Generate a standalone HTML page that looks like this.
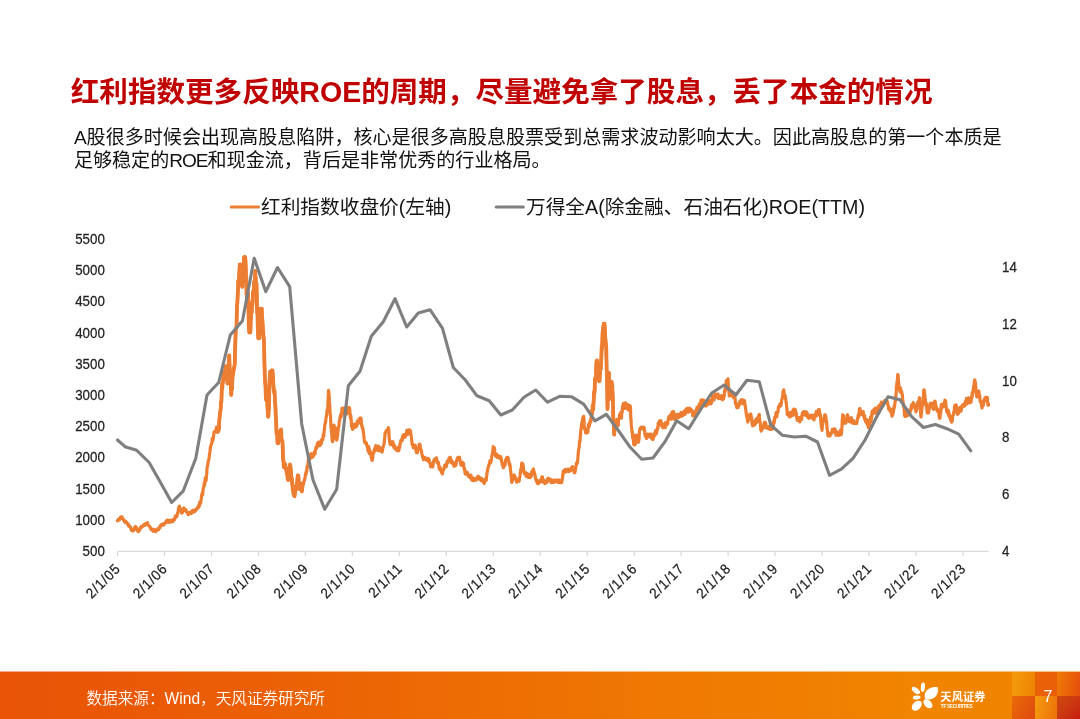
<!DOCTYPE html>
<html lang="zh-CN">
<head>
<meta charset="utf-8">
<title>红利指数更多反映ROE的周期</title>
<style>
html,body{margin:0;padding:0;background:#fff;}
body{will-change:transform;width:1080px;height:719px;position:relative;overflow:hidden;font-family:"Liberation Sans","Noto Sans CJK SC",sans-serif;color:#111;}
.title{color:#c00000;position:absolute;left:70.8px;top:71px;margin:0;font-size:28.57px;line-height:42px;font-weight:700;white-space:nowrap;letter-spacing:0;}
.body{position:absolute;left:73.9px;top:126.4px;margin:0;font-size:19.07px;line-height:23px;color:#111;white-space:nowrap;}
.chart{position:absolute;left:0;top:0;}
.chart .ax text{font-family:"Liberation Sans",sans-serif;font-size:14.4px;fill:#222;stroke:#222;stroke-width:0.25px;}
.leg{position:absolute;top:192.6px;font-size:19.7px;line-height:28px;color:#151515;white-space:nowrap;}
.footer{position:absolute;left:0;top:672px;width:1080px;height:47px;overflow:hidden;background:linear-gradient(90deg,#e95407 0%,#ea5a06 15%,#ec6505 33%,#ee7103 50%,#f07c02 67%,#f18400 84%,#f08300 100%);}
.tile{position:absolute;}
.fedge{position:absolute;left:0;top:671px;width:1080px;height:1px;opacity:0.5;background:linear-gradient(90deg,#e95407 0%,#ea5a06 15%,#ec6505 33%,#ee7103 50%,#f07c02 67%,#f18400 84%,#f08300 100%);}
.src{font-weight:350;position:absolute;left:86.5px;top:687.9px;font-size:15.62px;line-height:22px;color:#fff;white-space:nowrap;}
.pg{position:absolute;left:1043.4px;top:685.8px;font-size:16px;line-height:22px;color:#fff;}
.logo{position:absolute;left:0;top:0;}
.lgt{position:absolute;left:940.3px;top:690.2px;font-size:11.2px;line-height:15px;font-weight:700;color:#fff;white-space:nowrap;letter-spacing:0.15px;}
.lgs{position:absolute;left:940.8px;top:703.3px;font-size:4.7px;line-height:7px;font-weight:700;color:#fff;white-space:nowrap;letter-spacing:-0.28px;font-family:"Liberation Sans",sans-serif;}
</style>
</head>
<body>
<h1 class="title">红利指数更多反映ROE的周期，尽量避免拿了股息，丢了本金的情况</h1>
<p class="body">A股很多时候会出现高股息陷阱，核心是很多高股息股票受到总需求波动影响太大。因此高股息的第一个本质是<br>足够稳定的<span style="letter-spacing:-1px">ROE</span>和现金流，背后是非常优秀的行业格局。</p>
<svg class="chart" width="1080" height="719" viewBox="0 0 1080 719">
<path d="M117.7 551.3H988.5" stroke="#d9d9d9" stroke-width="1.3" fill="none"/>
<path d="M117.6 551.3v4.6M164.6 551.3v4.6M211.5 551.3v4.6M258.5 551.3v4.6M305.4 551.3v4.6M352.4 551.3v4.6M399.4 551.3v4.6M446.3 551.3v4.6M493.3 551.3v4.6M540.2 551.3v4.6M587.2 551.3v4.6M634.2 551.3v4.6M681.1 551.3v4.6M728.1 551.3v4.6M775.0 551.3v4.6M822.0 551.3v4.6M869.0 551.3v4.6M915.9 551.3v4.6M962.9 551.3v4.6" stroke="#d9d9d9" stroke-width="1.3" fill="none"/>
<polyline points="117.50,520.7 117.75,520.8 118.00,520.3 118.25,519.9 118.50,519.1 118.75,519.0 119.00,519.6 119.25,519.5 119.50,519.7 119.75,519.3 120.00,519.0 120.25,518.6 120.50,517.2 120.75,517.7 121.00,518.0 121.25,518.4 121.50,517.4 121.75,516.8 122.00,517.0 122.25,517.5 122.50,518.3 122.75,518.7 123.00,519.4 123.25,519.2 123.50,519.7 123.75,520.2 124.00,519.9 124.25,521.2 124.50,521.5 124.75,522.1 125.00,521.5 125.25,521.1 125.50,521.2 125.75,521.4 126.00,522.2 126.25,522.6 126.50,522.6 126.75,522.4 127.00,522.6 127.25,523.9 127.50,523.7 127.75,524.2 128.00,524.8 128.25,524.3 128.50,524.9 128.75,526.1 129.00,525.2 129.25,525.6 129.50,526.1 129.75,526.2 130.00,527.1 130.25,527.5 130.50,527.1 130.75,528.2 131.00,528.9 131.25,529.6 131.50,530.4 131.75,530.6 132.00,530.6 132.25,530.1 132.50,530.8 132.75,530.8 133.00,531.0 133.25,530.8 133.50,530.2 133.75,529.7 134.00,530.0 134.25,528.4 134.50,527.4 134.75,527.3 135.00,527.7 135.25,528.2 135.50,527.3 135.75,526.5 136.00,527.6 136.25,527.8 136.50,527.8 136.75,529.0 137.00,529.9 137.25,530.1 137.50,530.3 137.75,530.7 138.00,531.6 138.25,531.7 138.50,531.5 138.75,531.1 139.00,529.8 139.25,530.2 139.50,530.2 139.75,529.9 140.00,528.3 140.25,527.9 140.50,528.3 140.75,527.0 141.00,527.0 141.25,527.5 141.50,526.5 141.75,527.2 142.00,527.1 142.25,526.5 142.50,526.3 142.75,526.2 143.00,525.8 143.25,526.0 143.50,525.2 143.75,524.7 144.00,525.2 144.25,525.0 144.50,524.3 144.75,524.8 145.00,525.3 145.25,524.6 145.50,523.6 145.75,523.6 146.00,523.6 146.25,523.4 146.50,524.2 146.75,523.4 147.00,524.1 147.25,523.1 147.50,522.6 147.75,523.6 148.00,524.5 148.25,525.1 148.50,525.4 148.75,525.5 149.00,525.8 149.25,526.2 149.50,526.3 149.75,526.7 150.00,527.2 150.25,527.3 150.50,527.9 150.75,528.4 151.00,529.5 151.25,529.5 151.50,529.2 151.75,529.1 152.00,529.4 152.25,530.2 152.50,530.2 152.75,530.3 153.00,531.2 153.25,529.6 153.50,529.3 153.75,529.8 154.00,530.2 154.25,530.4 154.50,530.2 154.75,530.6 155.00,530.7 155.25,530.4 155.50,531.7 155.75,531.5 156.00,531.0 156.25,530.9 156.50,530.8 156.75,530.7 157.00,529.1 157.25,529.0 157.50,529.7 157.75,528.9 158.00,528.8 158.25,529.2 158.50,529.3 158.75,529.6 159.00,528.0 159.25,527.6 159.50,527.3 159.75,527.4 160.00,527.7 160.25,525.8 160.50,526.4 160.75,525.4 161.00,525.7 161.25,524.7 161.50,524.8 161.75,525.4 162.00,524.9 162.25,524.7 162.50,524.8 162.75,524.4 163.00,523.9 163.25,524.4 163.50,524.5 163.75,523.7 164.00,524.9 164.25,523.5 164.50,523.7 164.75,523.1 165.00,522.9 165.25,523.0 165.50,522.8 165.75,522.9 166.00,521.6 166.25,520.8 166.50,521.4 166.75,520.9 167.00,520.4 167.25,520.1 167.50,521.0 167.75,521.5 168.00,522.3 168.25,521.3 168.50,521.3 168.75,520.5 169.00,521.2 169.25,522.0 169.50,521.2 169.75,522.0 170.00,522.2 170.25,521.7 170.50,520.2 170.75,521.3 171.00,521.1 171.25,520.6 171.50,520.9 171.75,521.1 172.00,521.6 172.25,520.4 172.50,520.9 172.75,521.3 173.00,521.5 173.25,520.6 173.50,519.5 173.75,519.9 174.00,519.5 174.25,519.1 174.50,519.7 174.75,518.9 175.00,517.1 175.25,517.0 175.50,516.0 175.75,516.9 176.00,517.1 176.25,516.6 176.50,516.5 176.75,516.8 177.00,515.4 177.25,515.0 177.50,513.3 177.75,512.6 178.00,511.9 178.25,511.2 178.50,508.7 178.75,508.1 179.00,506.8 179.25,506.7 179.50,506.2 179.75,508.1 180.00,508.0 180.25,508.9 180.50,509.5 180.75,510.2 181.00,510.5 181.25,511.3 181.50,513.1 181.75,513.1 182.00,512.8 182.25,512.8 182.50,511.8 182.75,510.3 183.00,509.7 183.25,510.2 183.50,508.5 183.75,508.0 184.00,508.7 184.25,509.0 184.50,509.2 184.75,510.1 185.00,510.4 185.25,509.8 185.50,509.4 185.75,509.8 186.00,511.4 186.25,511.5 186.50,511.6 186.75,511.9 187.00,511.7 187.25,512.7 187.50,512.8 187.75,514.0 188.00,513.3 188.25,514.6 188.50,514.4 188.75,513.3 189.00,514.1 189.25,514.0 189.50,512.5 189.75,512.3 190.00,512.8 190.25,512.5 190.50,513.1 190.75,513.3 191.00,513.3 191.25,512.9 191.50,513.3 191.75,513.0 192.00,512.7 192.25,510.7 192.50,511.4 192.75,512.0 193.00,511.3 193.25,510.7 193.50,511.9 193.75,510.0 194.00,510.3 194.25,511.8 194.50,510.4 194.75,510.5 195.00,511.4 195.25,510.5 195.50,510.4 195.75,510.5 196.00,509.2 196.25,508.9 196.50,508.9 196.75,509.2 197.00,508.8 197.25,508.3 197.50,507.4 197.75,507.2 198.00,507.9 198.25,507.7 198.50,506.4 198.75,505.2 199.00,506.7 199.25,506.4 199.50,505.5 199.75,502.2 200.00,502.5 200.25,502.3 200.50,503.3 200.75,502.2 201.00,500.3 201.25,499.4 201.50,495.4 201.75,496.0 202.00,495.2 202.25,493.0 202.50,493.7 202.75,494.4 203.00,490.3 203.25,488.2 203.50,487.7 203.75,486.9 204.00,485.1 204.25,482.8 204.50,485.2 204.75,484.9 205.00,481.0 205.25,477.9 205.50,480.0 205.75,479.9 206.00,480.7 206.25,479.3 206.50,475.5 206.75,474.2 207.00,468.6 207.25,466.5 207.50,465.7 207.75,465.5 208.00,462.6 208.25,461.2 208.50,460.6 208.75,459.5 209.00,458.6 209.25,456.7 209.50,453.8 209.75,453.4 210.00,451.2 210.25,448.2 210.50,446.3 210.75,445.9 211.00,445.1 211.25,444.7 211.50,443.8 211.75,443.3 212.00,441.9 212.25,438.4 212.50,439.2 212.75,440.7 213.00,440.0 213.25,437.9 213.50,437.6 213.75,434.0 214.00,432.0 214.25,431.8 214.50,431.6 214.75,431.9 215.00,431.2 215.25,431.0 215.50,430.8 215.75,430.8 216.00,430.4 216.25,428.7 216.50,427.2 216.75,429.6 217.00,431.1 217.25,431.2 217.50,432.4 217.75,432.2 218.00,432.0 218.25,431.8 218.50,431.6 218.75,430.9 219.00,428.6 219.25,421.3 219.50,417.8 219.75,416.6 220.00,412.5 220.25,412.2 220.50,410.0 220.75,408.4 221.00,401.8 221.25,402.9 221.50,398.6 221.75,390.0 222.00,383.6 222.25,388.8 222.50,383.2 222.75,382.8 223.00,382.4 223.25,379.0 223.50,372.8 223.75,372.5 224.00,372.4 224.25,374.3 224.50,374.1 224.75,371.3 225.00,371.6 225.25,370.5 225.50,368.4 225.75,366.1 226.00,367.2 226.25,372.6 226.50,372.2 226.75,374.5 227.00,379.2 227.25,379.4 227.50,383.7 227.75,374.7 228.00,370.9 228.25,370.3 228.50,368.3 228.75,363.4 229.00,357.9 229.25,355.3 229.50,363.4 229.75,369.1 230.00,376.3 230.25,376.9 230.50,381.0 230.75,380.9 231.00,389.8 231.25,395.0 231.50,388.9 231.75,388.3 232.00,389.2 232.25,382.6 232.50,377.4 232.75,375.5 233.00,374.9 233.25,371.6 233.50,371.1 233.75,369.6 234.00,368.4 234.25,366.4 234.50,366.2 234.75,363.6 235.00,350.7 235.25,344.8 235.50,336.9 235.75,330.2 236.00,329.3 236.25,327.7 236.50,327.8 236.75,315.4 237.00,305.8 237.25,303.9 237.50,299.6 237.75,294.1 238.00,289.7 238.25,280.7 238.50,284.0 238.75,283.4 239.00,279.5 239.25,272.3 239.50,269.7 239.75,264.5 240.00,264.5 240.25,264.5 240.50,264.5 240.75,264.5 241.00,268.6 241.25,265.7 241.50,271.9 241.75,276.9 242.00,285.9 242.25,286.8 242.50,282.2 242.75,273.1 243.00,270.2 243.25,267.5 243.50,269.5 243.75,266.8 244.00,257.3 244.25,257.0 244.50,257.0 244.75,257.0 245.00,257.0 245.25,257.8 245.50,260.8 245.75,267.3 246.00,275.5 246.25,276.3 246.50,294.4 246.75,291.4 247.00,299.0 247.25,299.2 247.50,306.2 247.75,292.6 248.00,294.3 248.25,302.3 248.50,310.7 248.75,326.7 249.00,327.6 249.25,332.5 249.50,332.5 249.75,332.5 250.00,332.5 250.25,332.5 250.50,329.9 250.75,317.2 251.00,319.3 251.25,307.2 251.50,304.6 251.75,312.4 252.00,305.3 252.25,301.4 252.50,304.9 252.75,300.0 253.00,291.5 253.25,291.5 253.50,291.9 253.75,291.8 254.00,281.9 254.25,289.7 254.50,293.3 254.75,284.6 255.00,279.5 255.25,270.9 255.50,281.3 255.75,277.2 256.00,284.4 256.25,283.6 256.50,283.3 256.75,293.4 257.00,307.8 257.25,312.2 257.50,314.2 257.75,325.9 258.00,331.8 258.25,338.3 258.50,338.3 258.75,338.3 259.00,335.0 259.25,338.3 259.50,333.6 259.75,331.3 260.00,321.3 260.25,316.8 260.50,308.6 260.75,313.3 261.00,320.6 261.25,312.9 261.50,308.6 261.75,308.6 262.00,317.3 262.25,318.4 262.50,322.0 262.75,325.9 263.00,330.9 263.25,331.1 263.50,338.1 263.75,337.4 264.00,344.8 264.25,353.8 264.50,365.7 264.75,373.6 265.00,379.1 265.25,383.9 265.50,385.5 265.75,395.3 266.00,399.5 266.25,399.9 266.50,399.8 266.75,399.8 267.00,399.7 267.25,402.5 267.50,407.4 267.75,412.1 268.00,416.2 268.25,416.7 268.50,414.5 268.75,406.8 269.00,409.8 269.25,392.0 269.50,383.2 269.75,377.9 270.00,372.0 270.25,373.4 270.50,371.5 270.75,372.7 271.00,372.0 271.25,374.6 271.50,370.3 271.75,370.3 272.00,370.3 272.25,370.3 272.50,370.3 272.75,375.1 273.00,375.6 273.25,381.8 273.50,387.0 273.75,389.3 274.00,392.2 274.25,392.9 274.50,390.7 274.75,395.8 275.00,402.2 275.25,404.2 275.50,408.4 275.75,416.2 276.00,417.5 276.25,424.8 276.50,433.4 276.75,432.2 277.00,434.5 277.25,436.1 277.50,442.9 277.75,443.3 278.00,443.3 278.25,443.3 278.50,441.7 278.75,440.1 279.00,433.5 279.25,438.1 279.50,439.1 279.75,431.5 280.00,433.5 280.25,431.8 280.50,431.9 280.75,431.4 281.00,429.5 281.25,431.7 281.50,439.9 281.75,440.3 282.00,440.3 282.25,440.5 282.50,442.1 282.75,448.3 283.00,456.8 283.25,460.1 283.50,461.4 283.75,467.2 284.00,464.8 284.25,463.2 284.50,465.5 284.75,467.4 285.00,465.4 285.25,464.2 285.50,467.2 285.75,469.4 286.00,467.6 286.25,469.3 286.50,470.0 286.75,473.0 287.00,474.0 287.25,475.1 287.50,475.6 287.75,479.2 288.00,480.0 288.25,480.0 288.50,480.0 288.75,475.8 289.00,473.4 289.25,472.5 289.50,472.9 289.75,467.9 290.00,464.5 290.25,467.5 290.50,466.6 290.75,470.5 291.00,472.6 291.25,477.1 291.50,478.1 291.75,477.9 292.00,481.4 292.25,484.7 292.50,485.8 292.75,489.8 293.00,490.7 293.25,491.3 293.50,494.1 293.75,492.9 294.00,494.2 294.25,496.0 294.50,496.3 294.75,494.2 295.00,493.0 295.25,489.8 295.50,488.8 295.75,490.2 296.00,486.5 296.25,489.7 296.50,485.5 296.75,483.6 297.00,482.3 297.25,482.8 297.50,478.1 297.75,475.3 298.00,475.3 298.25,475.7 298.50,477.8 298.75,484.2 299.00,483.8 299.25,484.1 299.50,486.2 299.75,487.0 300.00,489.4 300.25,487.1 300.50,487.0 300.75,483.4 301.00,486.7 301.25,487.6 301.50,490.2 301.75,491.7 302.00,491.7 302.25,491.2 302.50,489.0 302.75,486.6 303.00,484.9 303.25,484.9 303.50,483.7 303.75,482.4 304.00,480.9 304.25,480.9 304.50,480.2 304.75,478.5 305.00,478.2 305.25,476.5 305.50,473.6 305.75,475.1 306.00,474.3 306.25,471.4 306.50,472.1 306.75,471.1 307.00,466.7 307.25,468.1 307.50,466.5 307.75,465.8 308.00,463.7 308.25,461.3 308.50,457.8 308.75,459.8 309.00,459.3 309.25,458.4 309.50,458.8 309.75,458.4 310.00,459.1 310.25,457.7 310.50,457.2 310.75,454.1 311.00,453.7 311.25,455.2 311.50,457.4 311.75,455.9 312.00,455.2 312.25,457.5 312.50,455.6 312.75,456.1 313.00,456.6 313.25,456.2 313.50,456.0 313.75,453.8 314.00,453.2 314.25,452.1 314.50,451.6 314.75,452.9 315.00,454.0 315.25,452.1 315.50,449.7 315.75,449.9 316.00,447.0 316.25,447.8 316.50,448.3 316.75,446.9 317.00,447.5 317.25,444.0 317.50,445.8 317.75,443.0 318.00,442.7 318.25,442.4 318.50,442.1 318.75,444.0 319.00,443.9 319.25,442.9 319.50,443.8 319.75,445.7 320.00,444.8 320.25,444.4 320.50,444.7 320.75,444.4 321.00,440.7 321.25,443.8 321.50,443.5 321.75,440.1 322.00,439.2 322.25,439.2 322.50,440.1 322.75,439.8 323.00,437.7 323.25,434.5 323.50,434.5 323.75,436.1 324.00,432.7 324.25,430.2 324.50,429.5 324.75,424.5 325.00,424.1 325.25,422.9 325.50,423.4 325.75,420.7 326.00,418.0 326.25,416.6 326.50,415.9 326.75,413.2 327.00,410.9 327.25,409.9 327.50,409.2 327.75,408.8 328.00,401.4 328.25,396.3 328.50,390.3 328.75,391.7 329.00,393.8 329.25,398.3 329.50,404.0 329.75,404.8 330.00,411.0 330.25,415.3 330.50,415.7 330.75,422.0 331.00,428.0 331.25,426.3 331.50,431.5 331.75,434.5 332.00,437.8 332.25,440.7 332.50,441.7 332.75,440.8 333.00,439.1 333.25,434.6 333.50,433.0 333.75,427.9 334.00,425.1 334.25,427.0 334.50,428.4 334.75,428.7 335.00,427.4 335.25,427.9 335.50,430.8 335.75,434.8 336.00,436.9 336.25,439.0 336.50,439.9 336.75,440.0 337.00,439.4 337.25,436.2 337.50,436.3 337.75,434.2 338.00,431.5 338.25,428.6 338.50,426.8 338.75,426.8 339.00,425.7 339.25,421.2 339.50,421.5 339.75,420.7 340.00,417.2 340.25,418.4 340.50,416.4 340.75,414.5 341.00,415.4 341.25,416.7 341.50,412.6 341.75,412.0 342.00,408.2 342.25,412.7 342.50,408.6 342.75,411.3 343.00,408.9 343.25,411.0 343.50,413.8 343.75,408.0 344.00,408.1 344.25,410.5 344.50,410.8 344.75,410.0 345.00,414.6 345.25,414.5 345.50,411.8 345.75,414.2 346.00,411.1 346.25,413.5 346.50,412.0 346.75,412.1 347.00,413.8 347.25,413.0 347.50,409.8 347.75,407.3 348.00,409.9 348.25,410.8 348.50,408.7 348.75,410.0 349.00,410.1 349.25,410.6 349.50,407.7 349.75,409.6 350.00,413.3 350.25,415.9 350.50,418.4 350.75,415.3 351.00,417.9 351.25,420.6 351.50,426.1 351.75,424.8 352.00,425.5 352.25,427.0 352.50,429.3 352.75,428.4 353.00,429.3 353.25,427.8 353.50,427.9 353.75,426.8 354.00,427.0 354.25,425.8 354.50,424.0 354.75,426.2 355.00,426.5 355.25,425.4 355.50,425.8 355.75,427.1 356.00,425.0 356.25,424.8 356.50,425.6 356.75,426.0 357.00,424.8 357.25,421.2 357.50,423.8 357.75,423.9 358.00,423.5 358.25,422.6 358.50,422.7 358.75,421.6 359.00,419.9 359.25,419.0 359.50,418.6 359.75,418.2 360.00,418.2 360.25,418.7 360.50,418.2 360.75,418.5 361.00,418.2 361.25,420.9 361.50,424.7 361.75,425.8 362.00,425.7 362.25,427.3 362.50,428.9 362.75,427.8 363.00,429.1 363.25,431.6 363.50,432.8 363.75,434.9 364.00,437.6 364.25,439.8 364.50,441.4 364.75,442.3 365.00,442.0 365.25,442.5 365.50,442.7 365.75,443.1 366.00,443.9 366.25,442.6 366.50,443.9 366.75,445.4 367.00,445.0 367.25,446.1 367.50,447.6 367.75,447.9 368.00,451.1 368.25,447.3 368.50,448.0 368.75,446.6 369.00,449.3 369.25,453.3 369.50,449.6 369.75,450.6 370.00,451.9 370.25,452.5 370.50,454.3 370.75,452.4 371.00,455.3 371.25,457.0 371.50,458.0 371.75,458.3 372.00,460.3 372.25,460.2 372.50,459.3 372.75,457.5 373.00,453.7 373.25,453.5 373.50,453.2 373.75,453.2 374.00,450.8 374.25,449.8 374.50,449.6 374.75,448.4 375.00,448.6 375.25,450.6 375.50,448.1 375.75,445.7 376.00,447.1 376.25,449.1 376.50,449.7 376.75,449.9 377.00,448.3 377.25,447.1 377.50,448.4 377.75,447.0 378.00,446.0 378.25,446.0 378.50,449.0 378.75,451.0 379.00,449.2 379.25,447.9 379.50,448.4 379.75,447.4 380.00,449.4 380.25,449.4 380.50,448.2 380.75,450.7 381.00,450.0 381.25,450.8 381.50,451.1 381.75,451.1 382.00,452.1 382.25,451.6 382.50,450.0 382.75,448.7 383.00,447.4 383.25,446.2 383.50,445.7 383.75,444.9 384.00,444.4 384.25,442.8 384.50,440.0 384.75,437.6 385.00,433.5 385.25,432.8 385.50,432.7 385.75,432.1 386.00,431.2 386.25,430.6 386.50,431.6 386.75,430.8 387.00,431.2 387.25,431.1 387.50,430.4 387.75,431.3 388.00,429.0 388.25,427.7 388.50,428.1 388.75,429.4 389.00,434.3 389.25,438.5 389.50,439.6 389.75,441.7 390.00,444.2 390.25,444.3 390.50,444.5 390.75,442.8 391.00,441.9 391.25,442.8 391.50,444.8 391.75,444.4 392.00,442.9 392.25,442.6 392.50,442.1 392.75,441.6 393.00,444.4 393.25,443.5 393.50,443.8 393.75,446.9 394.00,447.6 394.25,447.1 394.50,445.6 394.75,445.9 395.00,447.8 395.25,448.1 395.50,449.2 395.75,448.6 396.00,448.8 396.25,448.2 396.50,448.8 396.75,450.4 397.00,448.1 397.25,448.5 397.50,449.3 397.75,449.0 398.00,449.2 398.25,449.8 398.50,451.0 398.75,450.6 399.00,449.4 399.25,446.0 399.50,448.0 399.75,446.7 400.00,445.5 400.25,443.0 400.50,442.6 400.75,440.7 401.00,440.8 401.25,441.1 401.50,440.5 401.75,440.3 402.00,438.7 402.25,440.6 402.50,439.0 402.75,436.2 403.00,436.5 403.25,435.8 403.50,434.9 403.75,435.0 404.00,435.9 404.25,434.4 404.50,434.7 404.75,437.0 405.00,437.3 405.25,436.2 405.50,435.8 405.75,435.1 406.00,434.6 406.25,435.2 406.50,434.4 406.75,430.4 407.00,431.1 407.25,430.2 407.50,431.7 407.75,430.7 408.00,431.1 408.25,434.1 408.50,431.3 408.75,429.8 409.00,429.8 409.25,429.8 409.50,429.8 409.75,430.3 410.00,431.4 410.25,430.6 410.50,430.9 410.75,434.2 411.00,434.7 411.25,435.9 411.50,437.8 411.75,440.7 412.00,443.7 412.25,444.6 412.50,444.2 412.75,444.2 413.00,446.5 413.25,447.7 413.50,446.4 413.75,446.8 414.00,447.0 414.25,447.1 414.50,446.6 414.75,445.4 415.00,445.9 415.25,445.2 415.50,448.4 415.75,449.8 416.00,448.8 416.25,451.5 416.50,452.7 416.75,450.3 417.00,452.4 417.25,452.2 417.50,452.7 417.75,449.9 418.00,449.5 418.25,448.9 418.50,448.0 418.75,447.2 419.00,447.5 419.25,444.5 419.50,444.0 419.75,444.0 420.00,444.7 420.25,445.7 420.50,447.8 420.75,449.3 421.00,450.2 421.25,450.2 421.50,450.8 421.75,453.2 422.00,454.7 422.25,455.2 422.50,455.3 422.75,457.8 423.00,457.2 423.25,458.5 423.50,459.7 423.75,458.9 424.00,459.6 424.25,457.9 424.50,459.3 424.75,459.4 425.00,457.4 425.25,458.7 425.50,457.9 425.75,459.9 426.00,459.0 426.25,459.1 426.50,459.7 426.75,459.4 427.00,460.0 427.25,459.5 427.50,460.7 427.75,460.7 428.00,461.0 428.25,458.3 428.50,460.5 428.75,461.0 429.00,459.4 429.25,460.6 429.50,461.9 429.75,463.5 430.00,462.2 430.25,464.5 430.50,464.1 430.75,466.8 431.00,465.9 431.25,466.3 431.50,465.5 431.75,464.2 432.00,466.0 432.25,466.8 432.50,466.8 432.75,466.8 433.00,465.7 433.25,462.8 433.50,461.8 433.75,460.9 434.00,460.0 434.25,460.7 434.50,460.7 434.75,459.8 435.00,459.5 435.25,458.7 435.50,458.4 435.75,458.6 436.00,459.8 436.25,459.1 436.50,457.9 436.75,460.7 437.00,461.3 437.25,463.1 437.50,461.3 437.75,461.9 438.00,462.9 438.25,462.2 438.50,462.9 438.75,465.1 439.00,467.1 439.25,469.1 439.50,467.9 439.75,466.7 440.00,468.1 440.25,469.7 440.50,470.1 440.75,468.9 441.00,470.6 441.25,471.8 441.50,472.5 441.75,472.1 442.00,472.8 442.25,474.0 442.50,473.5 442.75,470.6 443.00,470.6 443.25,470.5 443.50,469.7 443.75,469.7 444.00,467.8 444.25,466.8 444.50,465.6 444.75,465.5 445.00,466.2 445.25,464.9 445.50,466.6 445.75,467.0 446.00,466.3 446.25,465.5 446.50,466.3 446.75,464.4 447.00,463.2 447.25,461.2 447.50,461.6 447.75,462.7 448.00,462.4 448.25,462.0 448.50,460.9 448.75,460.5 449.00,458.3 449.25,459.6 449.50,458.7 449.75,457.3 450.00,457.3 450.25,457.3 450.50,459.0 450.75,460.9 451.00,459.6 451.25,461.5 451.50,462.9 451.75,462.3 452.00,461.1 452.25,461.4 452.50,461.9 452.75,463.5 453.00,463.9 453.25,462.5 453.50,464.4 453.75,463.8 454.00,466.3 454.25,465.6 454.50,464.9 454.75,464.1 455.00,463.7 455.25,465.3 455.50,465.6 455.75,465.4 456.00,464.7 456.25,461.9 456.50,461.1 456.75,460.4 457.00,459.2 457.25,459.9 457.50,458.8 457.75,457.8 458.00,457.3 458.25,457.3 458.50,457.3 458.75,459.3 459.00,459.7 459.25,458.8 459.50,457.3 459.75,458.1 460.00,460.7 460.25,461.4 460.50,462.7 460.75,464.3 461.00,465.0 461.25,463.8 461.50,464.9 461.75,465.4 462.00,463.2 462.25,463.2 462.50,462.2 462.75,463.3 463.00,465.1 463.25,464.5 463.50,463.3 463.75,466.4 464.00,467.6 464.25,469.8 464.50,468.4 464.75,470.2 465.00,472.7 465.25,474.0 465.50,473.4 465.75,473.4 466.00,472.9 466.25,473.8 466.50,474.4 466.75,474.0 467.00,472.2 467.25,473.3 467.50,472.9 467.75,473.8 468.00,474.1 468.25,475.7 468.50,476.3 468.75,475.2 469.00,475.3 469.25,476.9 469.50,475.7 469.75,476.0 470.00,477.0 470.25,477.9 470.50,477.9 470.75,476.1 471.00,475.2 471.25,476.2 471.50,477.1 471.75,480.0 472.00,478.6 472.25,479.8 472.50,480.3 472.75,478.3 473.00,478.0 473.25,478.9 473.50,479.0 473.75,479.5 474.00,480.5 474.25,480.0 474.50,480.4 474.75,479.5 475.00,478.9 475.25,479.5 475.50,478.6 475.75,478.8 476.00,480.2 476.25,479.4 476.50,478.6 476.75,478.9 477.00,477.8 477.25,478.7 477.50,476.9 477.75,477.6 478.00,476.9 478.25,476.2 478.50,478.2 478.75,476.9 479.00,478.6 479.25,478.6 479.50,479.4 479.75,477.5 480.00,478.4 480.25,479.5 480.50,478.7 480.75,478.3 481.00,480.7 481.25,480.1 481.50,479.2 481.75,478.5 482.00,479.1 482.25,479.6 482.50,479.8 482.75,481.5 483.00,480.7 483.25,481.1 483.50,482.3 483.75,480.9 484.00,482.0 484.25,483.5 484.50,481.6 484.75,480.6 485.00,480.2 485.25,479.2 485.50,480.8 485.75,479.8 486.00,480.0 486.25,480.3 486.50,476.9 486.75,475.4 487.00,472.2 487.25,472.4 487.50,470.4 487.75,469.0 488.00,467.9 488.25,467.2 488.50,466.0 488.75,465.6 489.00,464.6 489.25,464.5 489.50,462.8 489.75,462.9 490.00,460.6 490.25,460.5 490.50,463.0 490.75,462.4 491.00,460.3 491.25,460.5 491.50,459.0 491.75,456.8 492.00,454.9 492.25,454.8 492.50,453.6 492.75,451.6 493.00,448.6 493.25,446.5 493.50,448.5 493.75,449.6 494.00,449.2 494.25,447.8 494.50,448.1 494.75,453.4 495.00,452.7 495.25,453.9 495.50,455.4 495.75,456.2 496.00,456.1 496.25,454.7 496.50,454.1 496.75,457.1 497.00,456.0 497.25,457.3 497.50,455.1 497.75,455.3 498.00,456.1 498.25,457.5 498.50,455.9 498.75,456.9 499.00,457.3 499.25,456.8 499.50,458.1 499.75,457.5 500.00,457.5 500.25,458.6 500.50,456.4 500.75,458.2 501.00,458.5 501.25,458.4 501.50,459.7 501.75,462.2 502.00,462.6 502.25,465.0 502.50,464.0 502.75,463.4 503.00,466.4 503.25,467.3 503.50,467.7 503.75,465.9 504.00,466.2 504.25,465.7 504.50,465.6 504.75,464.7 505.00,465.2 505.25,463.3 505.50,461.5 505.75,459.6 506.00,461.2 506.25,459.9 506.50,458.5 506.75,457.5 507.00,457.3 507.25,457.3 507.50,457.3 507.75,457.3 508.00,458.0 508.25,458.4 508.50,460.1 508.75,461.0 509.00,462.5 509.25,463.9 509.50,465.2 509.75,463.6 510.00,464.6 510.25,466.8 510.50,470.7 510.75,471.6 511.00,474.0 511.25,476.7 511.50,479.3 511.75,482.4 512.00,481.1 512.25,481.4 512.50,478.9 512.75,476.7 513.00,477.9 513.25,477.6 513.50,477.2 513.75,476.3 514.00,475.8 514.25,475.0 514.50,476.9 514.75,476.9 515.00,478.6 515.25,479.1 515.50,477.6 515.75,477.6 516.00,480.2 516.25,480.9 516.50,481.3 516.75,482.2 517.00,481.3 517.25,480.4 517.50,480.2 517.75,480.0 518.00,480.9 518.25,479.9 518.50,480.9 518.75,481.2 519.00,481.2 519.25,480.3 519.50,478.6 519.75,477.3 520.00,476.0 520.25,473.3 520.50,471.7 520.75,469.5 521.00,469.9 521.25,468.5 521.50,465.9 521.75,463.2 522.00,463.8 522.25,464.6 522.50,464.6 522.75,464.8 523.00,464.0 523.25,466.8 523.50,468.2 523.75,472.2 524.00,472.3 524.25,472.3 524.50,473.9 524.75,473.5 525.00,473.5 525.25,472.9 525.50,472.4 525.75,474.3 526.00,475.1 526.25,476.4 526.50,475.3 526.75,475.0 527.00,473.9 527.25,475.2 527.50,473.7 527.75,474.8 528.00,476.1 528.25,477.4 528.50,475.9 528.75,477.0 529.00,476.0 529.25,475.4 529.50,474.5 529.75,476.5 530.00,477.7 530.25,476.7 530.50,475.2 530.75,474.5 531.00,476.8 531.25,476.6 531.50,474.7 531.75,471.9 532.00,471.2 532.25,472.4 532.50,473.8 532.75,472.2 533.00,470.6 533.25,469.6 533.50,469.0 533.75,471.2 534.00,471.3 534.25,473.9 534.50,473.1 534.75,473.4 535.00,475.6 535.25,476.2 535.50,478.5 535.75,479.6 536.00,479.0 536.25,480.4 536.50,481.5 536.75,479.8 537.00,482.3 537.25,482.8 537.50,483.5 537.75,481.5 538.00,481.5 538.25,481.9 538.50,483.6 538.75,482.5 539.00,482.4 539.25,481.2 539.50,481.5 539.75,482.0 540.00,480.3 540.25,480.0 540.50,480.7 540.75,482.0 541.00,481.8 541.25,480.6 541.50,478.7 541.75,477.6 542.00,476.9 542.25,477.1 542.50,476.9 542.75,479.4 543.00,479.9 543.25,479.2 543.50,481.5 543.75,482.6 544.00,482.8 544.25,482.3 544.50,481.2 544.75,481.5 545.00,483.7 545.25,482.6 545.50,481.2 545.75,481.6 546.00,481.7 546.25,481.9 546.50,482.0 546.75,482.5 547.00,480.6 547.25,480.9 547.50,479.0 547.75,479.2 548.00,478.7 548.25,478.2 548.50,479.1 548.75,478.9 549.00,480.0 549.25,480.6 549.50,480.4 549.75,479.6 550.00,479.1 550.25,479.1 550.50,479.5 550.75,480.0 551.00,482.7 551.25,482.7 551.50,482.7 551.75,482.3 552.00,481.4 552.25,481.1 552.50,481.4 552.75,480.5 553.00,482.3 553.25,481.5 553.50,482.4 553.75,480.0 554.00,480.3 554.25,480.9 554.50,481.2 554.75,481.7 555.00,481.8 555.25,481.7 555.50,480.0 555.75,480.0 556.00,480.0 556.25,480.0 556.50,480.3 556.75,480.4 557.00,480.0 557.25,480.0 557.50,482.1 557.75,482.5 558.00,482.5 558.25,482.5 558.50,481.2 558.75,480.1 559.00,480.1 559.25,480.1 559.50,480.2 559.75,480.5 560.00,482.7 560.25,482.4 560.50,482.1 560.75,482.2 561.00,482.0 561.25,482.7 561.50,482.7 561.75,481.9 562.00,480.7 562.25,479.1 562.50,478.3 562.75,475.5 563.00,473.0 563.25,471.0 563.50,471.9 563.75,472.6 564.00,472.8 564.25,470.4 564.50,470.7 564.75,470.5 565.00,469.6 565.25,469.4 565.50,470.9 565.75,471.6 566.00,471.4 566.25,471.7 566.50,470.7 566.75,470.6 567.00,470.4 567.25,470.8 567.50,470.3 567.75,469.9 568.00,469.6 568.25,468.9 568.50,471.4 568.75,471.2 569.00,470.9 569.25,471.5 569.50,471.2 569.75,469.7 570.00,470.0 570.25,470.3 570.50,470.6 570.75,470.5 571.00,470.4 571.25,468.9 571.50,467.5 571.75,467.9 572.00,468.3 572.25,466.9 572.50,466.6 572.75,466.9 573.00,467.9 573.25,468.9 573.50,469.1 573.75,468.4 574.00,470.7 574.25,472.7 574.50,472.4 574.75,472.7 575.00,471.8 575.25,470.7 575.50,469.4 575.75,466.7 576.00,466.0 576.25,465.6 576.50,462.8 576.75,463.7 577.00,463.8 577.25,463.1 577.50,462.3 577.75,459.8 578.00,456.4 578.25,453.3 578.50,450.4 578.75,449.2 579.00,447.8 579.25,446.9 579.50,441.1 579.75,442.1 580.00,441.7 580.25,437.3 580.50,434.5 580.75,431.3 581.00,429.4 581.25,427.2 581.50,425.6 581.75,423.0 582.00,422.5 582.25,421.4 582.50,420.9 582.75,418.3 583.00,417.6 583.25,416.9 583.50,417.7 583.75,416.3 584.00,420.5 584.25,425.9 584.50,429.0 584.75,429.0 585.00,429.4 585.25,429.2 585.50,432.0 585.75,433.0 586.00,433.0 586.25,431.6 586.50,433.0 586.75,433.0 587.00,430.7 587.25,429.5 587.50,430.6 587.75,432.5 588.00,428.2 588.25,425.5 588.50,427.9 588.75,424.1 589.00,425.2 589.25,426.4 589.50,425.5 589.75,421.9 590.00,422.2 590.25,421.2 590.50,422.3 590.75,419.2 591.00,421.8 591.25,414.1 591.50,413.1 591.75,412.2 592.00,414.1 592.25,409.5 592.50,409.6 592.75,405.3 593.00,406.2 593.25,409.5 593.50,402.6 593.75,399.8 594.00,392.0 594.25,392.6 594.50,392.9 594.75,387.5 595.00,378.4 595.25,378.1 595.50,380.0 595.75,380.1 596.00,378.3 596.25,365.6 596.50,361.1 596.75,366.3 597.00,360.3 597.25,364.4 597.50,370.6 597.75,369.7 598.00,374.2 598.25,373.2 598.50,370.4 598.75,374.6 599.00,378.4 599.25,381.4 599.50,380.9 599.75,376.0 600.00,372.9 600.25,370.5 600.50,366.0 600.75,369.5 601.00,364.9 601.25,359.1 601.50,352.9 601.75,345.8 602.00,348.9 602.25,344.3 602.50,334.4 602.75,330.6 603.00,329.4 603.25,326.5 603.50,331.2 603.75,323.6 604.00,324.6 604.25,324.5 604.50,323.6 604.75,327.5 605.00,331.6 605.25,338.2 605.50,339.3 605.75,344.6 606.00,343.4 606.25,348.1 606.50,361.5 606.75,373.5 607.00,379.5 607.25,392.3 607.50,409.0 607.75,398.9 608.00,393.1 608.25,392.9 608.50,391.0 608.75,381.8 609.00,372.8 609.25,382.8 609.50,386.9 609.75,386.9 610.00,391.5 610.25,398.7 610.50,392.3 610.75,396.6 611.00,397.3 611.25,386.9 611.50,389.6 611.75,382.0 612.00,385.7 612.25,385.1 612.50,391.0 612.75,396.0 613.00,405.0 613.25,417.9 613.50,421.1 613.75,424.6 614.00,430.0 614.25,434.7 614.50,429.3 614.75,429.2 615.00,428.3 615.25,425.4 615.50,427.4 615.75,421.5 616.00,425.0 616.25,422.5 616.50,425.2 616.75,419.3 617.00,422.2 617.25,423.5 617.50,423.7 617.75,424.0 618.00,425.4 618.25,425.6 618.50,419.5 618.75,419.3 619.00,418.7 619.25,417.8 619.50,414.9 619.75,415.3 620.00,417.8 620.25,415.7 620.50,412.9 620.75,416.4 621.00,417.4 621.25,417.6 621.50,418.1 621.75,413.2 622.00,410.3 622.25,412.2 622.50,407.4 622.75,405.4 623.00,405.4 623.25,405.1 623.50,403.4 623.75,407.0 624.00,405.5 624.25,407.8 624.50,408.3 624.75,408.3 625.00,408.3 625.25,406.1 625.50,402.8 625.75,403.2 626.00,405.6 626.25,408.3 626.50,406.5 626.75,408.3 627.00,405.0 627.25,404.5 627.50,404.5 627.75,406.5 628.00,406.8 628.25,410.1 628.50,404.9 628.75,407.6 629.00,409.4 629.25,407.9 629.50,409.7 629.75,407.9 630.00,405.6 630.25,406.8 630.50,407.3 630.75,419.5 631.00,418.3 631.25,425.5 631.50,426.6 631.75,428.7 632.00,432.4 632.25,431.3 632.50,436.5 632.75,438.2 633.00,434.6 633.25,438.7 633.50,441.8 633.75,444.2 634.00,445.0 634.25,445.0 634.50,445.0 634.75,445.0 635.00,442.0 635.25,444.1 635.50,438.0 635.75,435.3 636.00,436.2 636.25,435.3 636.50,435.3 636.75,435.3 637.00,435.3 637.25,435.3 637.50,437.2 637.75,435.6 638.00,440.5 638.25,442.3 638.50,442.0 638.75,440.4 639.00,439.2 639.25,433.7 639.50,430.2 639.75,430.0 640.00,428.4 640.25,428.2 640.50,429.1 640.75,427.7 641.00,427.4 641.25,427.3 641.50,427.3 641.75,428.0 642.00,428.2 642.25,427.3 642.50,427.3 642.75,428.2 643.00,427.3 643.25,428.3 643.50,429.5 643.75,427.3 644.00,427.3 644.25,428.9 644.50,430.7 644.75,432.8 645.00,434.4 645.25,436.0 645.50,435.3 645.75,435.3 646.00,436.9 646.25,436.6 646.50,438.5 646.75,436.3 647.00,437.4 647.25,437.0 647.50,434.1 647.75,436.2 648.00,436.6 648.25,436.4 648.50,434.7 648.75,434.4 649.00,436.8 649.25,435.1 649.50,434.0 649.75,434.0 650.00,434.0 650.25,434.0 650.50,434.0 650.75,434.0 651.00,434.0 651.25,436.2 651.50,434.7 651.75,438.6 652.00,437.8 652.25,436.7 652.50,438.6 652.75,439.7 653.00,438.3 653.25,439.0 653.50,435.7 653.75,434.6 654.00,436.5 654.25,435.6 654.50,433.3 654.75,434.2 655.00,435.1 655.25,434.1 655.50,430.8 655.75,430.4 656.00,431.1 656.25,431.8 656.50,433.6 656.75,431.5 657.00,429.5 657.25,428.7 657.50,429.7 657.75,426.9 658.00,428.2 658.25,422.8 658.50,424.3 658.75,422.9 659.00,423.4 659.25,423.8 659.50,421.0 659.75,420.9 660.00,422.0 660.25,423.4 660.50,422.2 660.75,421.5 661.00,420.7 661.25,425.5 661.50,425.3 661.75,425.3 662.00,423.5 662.25,426.2 662.50,425.8 662.75,427.7 663.00,427.7 663.25,427.7 663.50,427.7 663.75,426.4 664.00,426.0 664.25,425.4 664.50,424.2 664.75,425.0 665.00,425.4 665.25,427.7 665.50,422.6 665.75,423.0 666.00,422.9 666.25,423.0 666.50,424.2 666.75,424.8 667.00,424.4 667.25,423.3 667.50,423.8 667.75,423.7 668.00,420.2 668.25,420.1 668.50,418.1 668.75,417.0 669.00,418.1 669.25,418.4 669.50,418.6 669.75,416.9 670.00,416.7 670.25,415.2 670.50,416.1 670.75,416.9 671.00,419.0 671.25,419.3 671.50,416.1 671.75,414.3 672.00,412.2 672.25,412.6 672.50,415.4 672.75,416.1 673.00,412.1 673.25,411.5 673.50,411.5 673.75,413.6 674.00,414.8 674.25,416.3 674.50,419.3 674.75,418.1 675.00,417.2 675.25,419.3 675.50,419.3 675.75,417.9 676.00,414.6 676.25,415.0 676.50,414.9 676.75,414.7 677.00,414.5 677.25,416.6 677.50,416.3 677.75,415.2 678.00,414.3 678.25,417.8 678.50,414.3 678.75,415.0 679.00,415.2 679.25,416.1 679.50,415.1 679.75,415.8 680.00,416.7 680.25,415.7 680.50,414.5 680.75,414.1 681.00,412.5 681.25,412.7 681.50,412.6 681.75,413.2 682.00,415.4 682.25,416.0 682.50,414.7 682.75,415.1 683.00,414.7 683.25,415.2 683.50,414.2 683.75,414.0 684.00,412.5 684.25,411.0 684.50,412.7 684.75,414.3 685.00,414.2 685.25,414.0 685.50,413.5 685.75,411.9 686.00,409.1 686.25,410.5 686.50,410.9 686.75,409.9 687.00,408.6 687.25,411.2 687.50,408.3 687.75,411.6 688.00,412.1 688.25,412.2 688.50,412.1 688.75,411.2 689.00,409.7 689.25,409.9 689.50,409.3 689.75,408.2 690.00,410.1 690.25,408.9 690.50,408.8 690.75,410.6 691.00,410.1 691.25,410.2 691.50,411.6 691.75,411.5 692.00,410.2 692.25,411.4 692.50,412.1 692.75,415.8 693.00,413.9 693.25,416.0 693.50,414.1 693.75,413.1 694.00,412.4 694.25,412.6 694.50,413.6 694.75,415.4 695.00,412.6 695.25,413.8 695.50,413.8 695.75,413.3 696.00,410.2 696.25,410.8 696.50,409.3 696.75,408.9 697.00,407.4 697.25,407.8 697.50,408.6 697.75,409.3 698.00,407.4 698.25,408.2 698.50,409.3 698.75,406.0 699.00,407.8 699.25,404.2 699.50,404.9 699.75,405.4 700.00,406.5 700.25,406.2 700.50,404.2 700.75,402.3 701.00,400.2 701.25,402.2 701.50,401.7 701.75,400.5 702.00,401.8 702.25,400.3 702.50,399.8 702.75,399.8 703.00,402.7 703.25,404.4 703.50,403.1 703.75,400.0 704.00,401.3 704.25,401.8 704.50,402.8 704.75,403.9 705.00,403.2 705.25,405.0 705.50,406.0 705.75,405.9 706.00,404.8 706.25,404.0 706.50,405.7 706.75,403.7 707.00,403.6 707.25,402.4 707.50,400.5 707.75,402.4 708.00,402.6 708.25,402.7 708.50,404.1 708.75,400.8 709.00,401.0 709.25,401.7 709.50,403.0 709.75,400.4 710.00,401.7 710.25,401.6 710.50,403.4 710.75,403.9 711.00,403.4 711.25,403.3 711.50,403.0 711.75,400.9 712.00,399.5 712.25,397.5 712.50,397.7 712.75,395.8 713.00,395.7 713.25,397.1 713.50,399.0 713.75,397.8 714.00,400.0 714.25,397.8 714.50,397.3 714.75,394.4 715.00,394.2 715.25,394.0 715.50,396.7 715.75,397.3 716.00,394.9 716.25,396.0 716.50,396.6 716.75,395.7 717.00,395.5 717.25,394.8 717.50,394.0 717.75,394.0 718.00,394.0 718.25,396.1 718.50,398.6 718.75,397.4 719.00,395.8 719.25,395.8 719.50,397.8 719.75,398.2 720.00,397.0 720.25,397.8 720.50,397.5 720.75,398.6 721.00,397.8 721.25,395.6 721.50,396.8 721.75,398.8 722.00,397.1 722.25,397.7 722.50,399.8 722.75,398.1 723.00,396.1 723.25,399.1 723.50,398.7 723.75,398.4 724.00,394.5 724.25,396.2 724.50,391.1 724.75,389.5 725.00,390.4 725.25,391.5 725.50,387.8 725.75,385.5 726.00,385.2 726.25,380.7 726.50,382.1 726.75,382.4 727.00,380.4 727.25,380.6 727.50,380.7 727.75,379.6 728.00,378.8 728.25,384.7 728.50,386.2 728.75,389.6 729.00,392.0 729.25,396.0 729.50,394.9 729.75,395.0 730.00,394.4 730.25,393.6 730.50,395.9 730.75,394.0 731.00,395.3 731.25,394.9 731.50,395.3 731.75,393.0 732.00,394.4 732.25,395.3 732.50,393.7 732.75,394.5 733.00,394.6 733.25,395.0 733.50,397.9 733.75,396.6 734.00,394.3 734.25,393.1 734.50,394.7 734.75,395.7 735.00,397.7 735.25,400.1 735.50,403.9 735.75,404.2 736.00,404.9 736.25,403.6 736.50,405.1 736.75,407.6 737.00,407.7 737.25,405.5 737.50,407.7 737.75,407.7 738.00,407.7 738.25,405.5 738.50,404.7 738.75,405.5 739.00,405.6 739.25,403.6 739.50,402.0 739.75,403.9 740.00,401.2 740.25,403.9 740.50,403.2 740.75,403.1 741.00,400.2 741.25,399.8 741.50,400.9 741.75,399.8 742.00,403.0 742.25,400.3 742.50,399.8 742.75,400.4 743.00,402.1 743.25,403.8 743.50,403.1 743.75,403.1 744.00,403.1 744.25,402.7 744.50,400.6 744.75,403.0 745.00,404.3 745.25,406.5 745.50,407.2 745.75,409.7 746.00,411.4 746.25,413.1 746.50,416.5 746.75,415.1 747.00,417.7 747.25,418.0 747.50,419.9 747.75,422.2 748.00,419.8 748.25,419.4 748.50,418.3 748.75,419.7 749.00,417.5 749.25,414.9 749.50,416.3 749.75,415.7 750.00,415.2 750.25,416.8 750.50,414.7 750.75,414.0 751.00,415.3 751.25,417.1 751.50,417.2 751.75,420.0 752.00,423.9 752.25,422.8 752.50,425.9 752.75,422.4 753.00,425.6 753.25,425.4 753.50,425.4 753.75,424.4 754.00,423.2 754.25,421.3 754.50,421.3 754.75,423.6 755.00,424.8 755.25,423.3 755.50,422.0 755.75,420.7 756.00,419.1 756.25,422.3 756.50,422.6 756.75,421.7 757.00,420.1 757.25,418.0 757.50,420.0 757.75,420.3 758.00,417.7 758.25,418.8 758.50,416.1 758.75,416.9 759.00,414.7 759.25,414.5 759.50,417.4 759.75,419.8 760.00,422.9 760.25,422.7 760.50,426.7 760.75,429.6 761.00,430.1 761.25,431.0 761.50,429.8 761.75,428.9 762.00,426.5 762.25,426.7 762.50,426.8 762.75,428.3 763.00,428.5 763.25,428.2 763.50,426.2 763.75,424.8 764.00,423.6 764.25,423.6 764.50,422.3 764.75,423.2 765.00,422.3 765.25,422.3 765.50,423.0 765.75,423.0 766.00,426.3 766.25,426.0 766.50,428.0 766.75,428.1 767.00,427.5 767.25,427.8 767.50,428.4 767.75,428.0 768.00,427.7 768.25,426.7 768.50,426.9 768.75,426.5 769.00,426.9 769.25,428.5 769.50,429.3 769.75,429.3 770.00,429.2 770.25,429.3 770.50,428.8 770.75,427.1 771.00,429.0 771.25,427.5 771.50,429.1 771.75,427.4 772.00,429.3 772.25,426.8 772.50,427.4 772.75,428.5 773.00,425.5 773.25,426.9 773.50,424.2 773.75,420.8 774.00,422.1 774.25,422.6 774.50,421.4 774.75,417.0 775.00,417.6 775.25,417.1 775.50,416.5 775.75,415.8 776.00,412.9 776.25,412.5 776.50,415.6 776.75,416.9 777.00,414.6 777.25,412.2 777.50,412.1 777.75,412.5 778.00,411.8 778.25,408.0 778.50,407.2 778.75,406.3 779.00,407.4 779.25,407.3 779.50,405.8 779.75,405.8 780.00,403.9 780.25,406.0 780.50,404.1 780.75,404.3 781.00,405.4 781.25,403.2 781.50,402.2 781.75,399.5 782.00,399.4 782.25,398.5 782.50,396.8 782.75,396.6 783.00,391.5 783.25,391.2 783.50,390.6 783.75,389.8 784.00,392.6 784.25,396.5 784.50,395.7 784.75,394.7 785.00,395.0 785.25,396.8 785.50,399.1 785.75,398.6 786.00,402.3 786.25,402.0 786.50,405.5 786.75,407.6 787.00,409.7 787.25,414.3 787.50,414.1 787.75,413.4 788.00,414.0 788.25,415.2 788.50,412.7 788.75,413.7 789.00,412.9 789.25,414.6 789.50,417.0 789.75,416.7 790.00,416.3 790.25,416.7 790.50,412.3 790.75,415.2 791.00,416.2 791.25,416.0 791.50,414.9 791.75,413.4 792.00,413.1 792.25,414.9 792.50,413.9 792.75,415.3 793.00,410.0 793.25,409.6 793.50,410.3 793.75,410.2 794.00,409.0 794.25,409.0 794.50,410.8 794.75,409.5 795.00,409.4 795.25,409.5 795.50,410.6 795.75,413.4 796.00,415.3 796.25,412.9 796.50,416.9 796.75,416.6 797.00,416.7 797.25,420.3 797.50,420.3 797.75,418.9 798.00,419.1 798.25,419.4 798.50,418.4 798.75,418.5 799.00,420.2 799.25,420.3 799.50,417.7 799.75,422.0 800.00,419.0 800.25,418.6 800.50,418.0 800.75,418.6 801.00,417.1 801.25,417.2 801.50,419.6 801.75,418.0 802.00,414.9 802.25,415.0 802.50,413.1 802.75,412.4 803.00,412.6 803.25,412.8 803.50,412.3 803.75,413.9 804.00,413.4 804.25,411.5 804.50,413.5 804.75,413.0 805.00,415.2 805.25,413.8 805.50,414.9 805.75,415.2 806.00,411.8 806.25,412.0 806.50,412.2 806.75,413.9 807.00,412.5 807.25,414.3 807.50,416.4 807.75,416.9 808.00,417.6 808.25,416.3 808.50,416.3 808.75,416.7 809.00,417.4 809.25,418.3 809.50,417.6 809.75,416.4 810.00,416.0 810.25,417.2 810.50,415.0 810.75,415.0 811.00,415.2 811.25,415.5 811.50,416.2 811.75,415.8 812.00,415.8 812.25,416.0 812.50,418.4 812.75,415.4 813.00,415.8 813.25,417.1 813.50,417.8 813.75,419.3 814.00,419.9 814.25,417.0 814.50,417.5 814.75,416.3 815.00,414.6 815.25,417.0 815.50,415.1 815.75,413.4 816.00,412.9 816.25,411.7 816.50,413.7 816.75,413.9 817.00,415.4 817.25,414.7 817.50,412.5 817.75,413.6 818.00,411.4 818.25,410.2 818.50,409.7 818.75,409.6 819.00,411.2 819.25,409.7 819.50,412.1 819.75,413.7 820.00,413.5 820.25,414.3 820.50,416.7 820.75,419.9 821.00,422.5 821.25,425.1 821.50,426.8 821.75,427.8 822.00,430.4 822.25,427.7 822.50,425.0 822.75,424.3 823.00,421.8 823.25,421.1 823.50,419.9 823.75,418.9 824.00,418.7 824.25,416.9 824.50,416.0 824.75,414.8 825.00,414.8 825.25,414.8 825.50,418.0 825.75,416.0 826.00,418.3 826.25,422.0 826.50,421.1 826.75,424.2 827.00,427.4 827.25,430.1 827.50,430.3 827.75,433.4 828.00,435.9 828.25,434.5 828.50,435.8 828.75,435.5 829.00,435.2 829.25,434.3 829.50,435.0 829.75,434.7 830.00,435.8 830.25,435.4 830.50,433.6 830.75,432.9 831.00,433.8 831.25,432.6 831.50,432.7 831.75,432.9 832.00,432.1 832.25,429.3 832.50,429.6 832.75,430.4 833.00,430.7 833.25,429.6 833.50,431.6 833.75,431.0 834.00,429.9 834.25,429.0 834.50,429.8 834.75,429.0 835.00,429.0 835.25,431.4 835.50,433.2 835.75,434.1 836.00,435.1 836.25,435.0 836.50,431.8 836.75,433.8 837.00,435.2 837.25,435.2 837.50,432.1 837.75,434.5 838.00,435.2 838.25,435.1 838.50,434.8 838.75,435.2 839.00,434.5 839.25,435.2 839.50,434.7 839.75,434.9 840.00,434.1 840.25,431.4 840.50,430.2 840.75,435.0 841.00,434.3 841.25,434.6 841.50,432.8 841.75,430.7 842.00,426.4 842.25,420.8 842.50,416.9 842.75,414.8 843.00,415.6 843.25,418.3 843.50,415.7 843.75,417.8 844.00,420.4 844.25,423.1 844.50,421.8 844.75,421.6 845.00,419.9 845.25,418.8 845.50,420.2 845.75,423.1 846.00,419.9 846.25,421.4 846.50,420.6 846.75,418.5 847.00,420.9 847.25,415.1 847.50,414.8 847.75,415.8 848.00,419.5 848.25,421.2 848.50,420.9 848.75,421.1 849.00,421.2 849.25,421.4 849.50,421.5 849.75,421.7 850.00,420.7 850.25,419.8 850.50,418.1 850.75,421.9 851.00,420.7 851.25,417.5 851.50,419.0 851.75,419.6 852.00,420.4 852.25,423.2 852.50,422.5 852.75,421.7 853.00,420.6 853.25,420.9 853.50,420.6 853.75,421.4 854.00,423.5 854.25,423.5 854.50,423.2 854.75,423.5 855.00,423.5 855.25,423.5 855.50,423.5 855.75,423.5 856.00,423.5 856.25,423.5 856.50,423.5 856.75,423.5 857.00,421.5 857.25,420.2 857.50,418.2 857.75,418.4 858.00,417.8 858.25,415.0 858.50,414.4 858.75,416.7 859.00,415.6 859.25,410.7 859.50,408.7 859.75,408.5 860.00,408.8 860.25,409.9 860.50,412.3 860.75,412.7 861.00,411.1 861.25,413.2 861.50,413.6 861.75,414.5 862.00,414.4 862.25,413.3 862.50,413.2 862.75,414.3 863.00,414.0 863.25,411.5 863.50,415.9 863.75,415.3 864.00,415.8 864.25,418.1 864.50,415.4 864.75,419.3 865.00,418.9 865.25,420.9 865.50,420.6 865.75,421.7 866.00,422.3 866.25,422.7 866.50,420.3 866.75,419.5 867.00,421.1 867.25,424.4 867.50,423.8 867.75,425.1 868.00,425.6 868.25,426.4 868.50,427.7 868.75,425.3 869.00,426.3 869.25,426.1 869.50,424.6 869.75,422.4 870.00,420.7 870.25,418.8 870.50,417.0 870.75,420.9 871.00,421.8 871.25,419.4 871.50,418.6 871.75,415.2 872.00,411.5 872.25,411.2 872.50,411.0 872.75,414.0 873.00,413.7 873.25,411.9 873.50,411.8 873.75,410.5 874.00,409.5 874.25,409.6 874.50,409.7 874.75,409.1 875.00,408.4 875.25,408.1 875.50,409.2 875.75,411.9 876.00,411.0 876.25,413.7 876.50,410.0 876.75,410.3 877.00,408.0 877.25,408.0 877.50,408.4 877.75,409.2 878.00,410.6 878.25,408.7 878.50,406.2 878.75,406.2 879.00,406.9 879.25,405.6 879.50,407.3 879.75,409.5 880.00,405.9 880.25,406.3 880.50,407.5 880.75,403.4 881.00,404.1 881.25,403.8 881.50,402.0 881.75,404.4 882.00,404.5 882.25,403.4 882.50,404.1 882.75,404.9 883.00,405.6 883.25,405.6 883.50,405.3 883.75,402.4 884.00,401.8 884.25,402.2 884.50,400.7 884.75,402.7 885.00,401.8 885.25,400.7 885.50,400.7 885.75,400.7 886.00,400.7 886.25,400.7 886.50,400.9 886.75,400.7 887.00,400.7 887.25,402.0 887.50,402.2 887.75,404.6 888.00,404.9 888.25,405.7 888.50,406.9 888.75,409.2 889.00,409.7 889.25,409.7 889.50,409.4 889.75,408.4 890.00,408.8 890.25,410.9 890.50,411.8 890.75,411.6 891.00,410.3 891.25,409.4 891.50,411.9 891.75,414.9 892.00,416.1 892.25,414.4 892.50,415.3 892.75,415.0 893.00,412.6 893.25,412.6 893.50,411.3 893.75,409.1 894.00,406.5 894.25,407.8 894.50,407.4 894.75,404.8 895.00,402.4 895.25,401.8 895.50,399.8 895.75,395.9 896.00,395.6 896.25,391.1 896.50,385.6 896.75,385.7 897.00,382.5 897.25,380.7 897.50,378.1 897.75,374.5 898.00,374.7 898.25,377.4 898.50,382.9 898.75,382.7 899.00,387.5 899.25,389.3 899.50,388.3 899.75,389.9 900.00,391.7 900.25,390.5 900.50,387.9 900.75,390.8 901.00,390.4 901.25,393.0 901.50,391.0 901.75,393.0 902.00,393.4 902.25,394.0 902.50,397.1 902.75,400.5 903.00,402.2 903.25,403.0 903.50,406.5 903.75,405.3 904.00,408.5 904.25,410.8 904.50,414.5 904.75,416.0 905.00,416.4 905.25,416.5 905.50,416.5 905.75,413.9 906.00,416.2 906.25,416.2 906.50,414.8 906.75,412.4 907.00,414.9 907.25,414.9 907.50,412.1 907.75,413.0 908.00,415.5 908.25,413.9 908.50,413.5 908.75,411.8 909.00,410.2 909.25,411.8 909.50,414.0 909.75,413.7 910.00,411.9 910.25,411.8 910.50,409.9 910.75,410.1 911.00,410.3 911.25,407.2 911.50,405.0 911.75,405.0 912.00,406.3 912.25,406.1 912.50,407.4 912.75,403.7 913.00,404.3 913.25,402.6 913.50,403.7 913.75,405.2 914.00,404.4 914.25,405.3 914.50,404.8 914.75,407.0 915.00,407.0 915.25,407.9 915.50,409.9 915.75,410.1 916.00,411.9 916.25,409.7 916.50,410.2 916.75,409.4 917.00,406.3 917.25,405.4 917.50,403.4 917.75,402.5 918.00,401.7 918.25,404.3 918.50,402.0 918.75,403.4 919.00,402.2 919.25,398.7 919.50,397.7 919.75,402.6 920.00,402.5 920.25,407.6 920.50,412.3 920.75,415.2 921.00,417.0 921.25,414.5 921.50,412.9 921.75,410.3 922.00,407.6 922.25,405.3 922.50,405.6 922.75,402.2 923.00,400.9 923.25,396.8 923.50,394.2 923.75,390.6 924.00,389.8 924.25,390.5 924.50,393.2 924.75,394.2 925.00,397.4 925.25,398.5 925.50,401.1 925.75,403.3 926.00,405.8 926.25,403.2 926.50,404.1 926.75,408.7 927.00,410.9 927.25,413.0 927.50,412.3 927.75,410.4 928.00,412.1 928.25,411.6 928.50,413.0 928.75,411.8 929.00,409.6 929.25,409.4 929.50,406.7 929.75,405.2 930.00,403.9 930.25,403.4 930.50,404.5 930.75,404.0 931.00,405.1 931.25,404.6 931.50,406.7 931.75,403.0 932.00,403.8 932.25,405.5 932.50,404.7 932.75,407.7 933.00,408.5 933.25,409.3 933.50,409.3 933.75,408.8 934.00,406.7 934.25,403.5 934.50,402.5 934.75,401.2 935.00,401.3 935.25,401.6 935.50,407.9 935.75,404.7 936.00,407.5 936.25,407.0 936.50,407.3 936.75,409.7 937.00,410.2 937.25,408.9 937.50,410.9 937.75,411.6 938.00,409.5 938.25,412.0 938.50,412.0 938.75,412.8 939.00,415.5 939.25,417.0 939.50,415.8 939.75,418.5 940.00,417.2 940.25,414.5 940.50,413.8 940.75,412.4 941.00,408.0 941.25,405.7 941.50,404.3 941.75,408.5 942.00,407.4 942.25,406.2 942.50,404.6 942.75,405.8 943.00,404.7 943.25,406.5 943.50,405.8 943.75,406.5 944.00,403.7 944.25,402.7 944.50,401.9 944.75,402.2 945.00,400.0 945.25,400.8 945.50,401.0 945.75,402.0 946.00,405.9 946.25,407.2 946.50,409.8 946.75,411.2 947.00,412.0 947.25,412.8 947.50,410.8 947.75,411.9 948.00,411.0 948.25,410.2 948.50,412.5 948.75,415.6 949.00,412.8 949.25,415.6 949.50,416.9 949.75,415.6 950.00,416.9 950.25,418.4 950.50,419.8 950.75,420.0 951.00,419.3 951.25,421.2 951.50,422.2 951.75,421.9 952.00,421.2 952.25,421.0 952.50,417.2 952.75,415.8 953.00,415.1 953.25,415.2 953.50,413.6 953.75,412.7 954.00,411.1 954.25,412.8 954.50,406.6 954.75,405.7 955.00,408.7 955.25,408.4 955.50,405.1 955.75,406.4 956.00,404.9 956.25,405.3 956.50,407.3 956.75,411.2 957.00,411.9 957.25,412.9 957.50,414.3 957.75,414.2 958.00,412.7 958.25,413.1 958.50,413.5 958.75,412.6 959.00,411.2 959.25,410.7 959.50,408.5 959.75,407.6 960.00,408.4 960.25,408.4 960.50,408.9 960.75,411.2 961.00,410.9 961.25,410.0 961.50,407.5 961.75,406.0 962.00,407.1 962.25,405.8 962.50,406.8 962.75,404.8 963.00,405.3 963.25,405.1 963.50,406.6 963.75,405.1 964.00,404.0 964.25,404.1 964.50,403.7 964.75,405.9 965.00,404.0 965.25,402.1 965.50,401.1 965.75,401.5 966.00,401.3 966.25,401.7 966.50,398.3 966.75,402.6 967.00,404.0 967.25,403.0 967.50,400.0 967.75,400.4 968.00,401.1 968.25,398.2 968.50,398.6 968.75,397.8 969.00,399.3 969.25,402.3 969.50,402.7 969.75,400.6 970.00,402.7 970.25,402.7 970.50,401.3 970.75,401.0 971.00,402.2 971.25,399.7 971.50,398.3 971.75,396.2 972.00,397.5 972.25,392.4 972.50,394.9 972.75,392.2 973.00,393.5 973.25,389.6 973.50,387.2 973.75,385.5 974.00,386.4 974.25,381.9 974.50,382.4 974.75,379.9 975.00,381.1 975.25,382.1 975.50,384.9 975.75,386.2 976.00,391.2 976.25,391.4 976.50,392.7 976.75,396.6 977.00,396.4 977.25,396.8 977.50,394.8 977.75,395.1 978.00,391.2 978.25,392.8 978.50,392.7 978.75,391.2 979.00,392.4 979.25,394.7 979.50,397.0 979.75,395.7 980.00,400.8 980.25,400.4 980.50,401.1 980.75,402.9 981.00,402.3 981.25,401.5 981.50,402.9 981.75,406.9 982.00,408.0 982.25,404.5 982.50,406.5 982.75,405.7 983.00,405.8 983.25,404.9 983.50,404.7 983.75,402.1 984.00,400.3 984.25,399.3 984.50,399.0 984.75,400.2 985.00,397.8 985.25,400.7 985.50,398.7 985.75,397.3 986.00,399.1 986.25,400.2 986.50,399.8 986.75,398.5 987.00,398.0 987.25,397.3 987.50,400.8 987.75,403.4 988.00,405.2 988.25,405.2 988.50,405.2 988.70,404.2" fill="none" stroke="#ED7D31" stroke-width="3.2" stroke-linejoin="round" stroke-linecap="round"/>
<polyline points="219.00,428.6 219.25,421.3 219.50,417.8 219.75,416.6 220.00,412.5 220.25,412.2 220.50,410.0 220.75,408.4 221.00,401.8 221.25,402.9 221.50,398.6 221.75,390.0 222.00,383.6 222.25,388.8 222.50,383.2 222.75,382.8 223.00,382.4 223.25,379.0 223.50,372.8 223.75,372.5 224.00,372.4 224.25,374.3 224.50,374.1 224.75,371.3 225.00,371.6 225.25,370.5 225.50,368.4 225.75,366.1 226.00,367.2 226.25,372.6 226.50,372.2 226.75,374.5 227.00,379.2 227.25,379.4 227.50,383.7 227.75,374.7 228.00,370.9 228.25,370.3 228.50,368.3 228.75,363.4 229.00,357.9 229.25,355.3 229.50,363.4 229.75,369.1 230.00,376.3 230.25,376.9 230.50,381.0 230.75,380.9 231.00,389.8 231.25,395.0 231.50,388.9 231.75,388.3 232.00,389.2 232.25,382.6 232.50,377.4 232.75,375.5 233.00,374.9 233.25,371.6 233.50,371.1 233.75,369.6 234.00,368.4 234.25,366.4 234.50,366.2 234.75,363.6 235.00,350.7 235.25,344.8 235.50,336.9 235.75,330.2 236.00,329.3 236.25,327.7 236.50,327.8 236.75,315.4 237.00,305.8 237.25,303.9 237.50,299.6 237.75,294.1 238.00,289.7 238.25,280.7 238.50,284.0 238.75,283.4 239.00,279.5 239.25,272.3 239.50,269.7 239.75,264.5 240.00,264.5 240.25,264.5 240.50,264.5 240.75,264.5 241.00,268.6 241.25,265.7 241.50,271.9 241.75,276.9 242.00,285.9 242.25,286.8 242.50,282.2 242.75,273.1 243.00,270.2 243.25,267.5 243.50,269.5 243.75,266.8 244.00,257.3 244.25,257.0 244.50,257.0 244.75,257.0 245.00,257.0 245.25,257.8 245.50,260.8 245.75,267.3 246.00,275.5 246.25,276.3 246.50,294.4 246.75,291.4 247.00,299.0 247.25,299.2 247.50,306.2 247.75,292.6 248.00,294.3 248.25,302.3 248.50,310.7 248.75,326.7 249.00,327.6 249.25,332.5 249.50,332.5 249.75,332.5 250.00,332.5 250.25,332.5 250.50,329.9 250.75,317.2 251.00,319.3 251.25,307.2 251.50,304.6 251.75,312.4 252.00,305.3 252.25,301.4 252.50,304.9 252.75,300.0 253.00,291.5 253.25,291.5 253.50,291.9 253.75,291.8 254.00,281.9 254.25,289.7 254.50,293.3 254.75,284.6 255.00,279.5 255.25,270.9 255.50,281.3 255.75,277.2 256.00,284.4 256.25,283.6 256.50,283.3 256.75,293.4 257.00,307.8 257.25,312.2 257.50,314.2 257.75,325.9 258.00,331.8 258.25,338.3 258.50,338.3 258.75,338.3 259.00,335.0 259.25,338.3 259.50,333.6 259.75,331.3 260.00,321.3 260.25,316.8 260.50,308.6 260.75,313.3 261.00,320.6 261.25,312.9 261.50,308.6 261.75,308.6 262.00,317.3 262.25,318.4 262.50,322.0 262.75,325.9 263.00,330.9 263.25,331.1 263.50,338.1 263.75,337.4 264.00,344.8 264.25,353.8 264.50,365.7 264.75,373.6 265.00,379.1 265.25,383.9 265.50,385.5 265.75,395.3 266.00,399.5 266.25,399.9 266.50,399.8 266.75,399.8 267.00,399.7 267.25,402.5 267.50,407.4 267.75,412.1 268.00,416.2 268.25,416.7 268.50,414.5 268.75,406.8 269.00,409.8 269.25,392.0 269.50,383.2 269.75,377.9 270.00,372.0 270.25,373.4 270.50,371.5 270.75,372.7 271.00,372.0 271.25,374.6 271.50,370.3 271.75,370.3 272.00,370.3 272.25,370.3 272.50,370.3 272.75,375.1 273.00,375.6 273.25,381.8 273.50,387.0 273.75,389.3 274.00,392.2 274.25,392.9 274.50,390.7 274.75,395.8 275.00,402.2 275.25,404.2 275.50,408.4 275.75,416.2 276.00,417.5 276.25,424.8 276.50,433.4 276.75,432.2 277.00,434.5 277.25,436.1 277.50,442.9 277.75,443.3 278.00,443.3 278.25,443.3 278.50,441.7 278.75,440.1 279.00,433.5 279.25,438.1 279.50,439.1 279.75,431.5 280.00,433.5 280.25,431.8 280.50,431.9 280.75,431.4 281.00,429.5 281.25,431.7 281.50,439.9 281.75,440.3 282.00,440.3 282.25,440.5 282.50,442.1 282.75,448.3 283.00,456.8 283.25,460.1 283.50,461.4 283.75,467.2 284.00,464.8 284.25,463.2 284.50,465.5 284.75,467.4 285.00,465.4 285.25,464.2 285.50,467.2 285.75,469.4 286.00,467.6 286.25,469.3 286.50,470.0 286.75,473.0 287.00,474.0 287.25,475.1 287.50,475.6 287.75,479.2 288.00,480.0 288.25,480.0 288.50,480.0 288.75,475.8 289.00,473.4 289.25,472.5 289.50,472.9 289.75,467.9 290.00,464.5 290.25,467.5 290.50,466.6 290.75,470.5 291.00,472.6 291.25,477.1 291.50,478.1 291.75,477.9 292.00,481.4 292.25,484.7 292.50,485.8 292.75,489.8 293.00,490.7 293.25,491.3 293.50,494.1 293.75,492.9 294.00,494.2 294.25,496.0 294.50,496.3 294.75,494.2 295.00,493.0 295.25,489.8 295.50,488.8 295.75,490.2 296.00,486.5 296.25,489.7 296.50,485.5 296.75,483.6 297.00,482.3 297.25,482.8 297.50,478.1 297.75,475.3 298.00,475.3 298.25,475.7 298.50,477.8 298.75,484.2 299.00,483.8 299.25,484.1 299.50,486.2 299.75,487.0 300.00,489.4 300.25,487.1 300.50,487.0 300.75,483.4 301.00,486.7" fill="none" stroke="#ED7D31" stroke-width="3.8" stroke-linejoin="round" stroke-linecap="round"/>
<polyline points="592.00,414.1 592.25,409.5 592.50,409.6 592.75,405.3 593.00,406.2 593.25,409.5 593.50,402.6 593.75,399.8 594.00,392.0 594.25,392.6 594.50,392.9 594.75,387.5 595.00,378.4 595.25,378.1 595.50,380.0 595.75,380.1 596.00,378.3 596.25,365.6 596.50,361.1 596.75,366.3 597.00,360.3 597.25,364.4 597.50,370.6 597.75,369.7 598.00,374.2 598.25,373.2 598.50,370.4 598.75,374.6 599.00,378.4 599.25,381.4 599.50,380.9 599.75,376.0 600.00,372.9 600.25,370.5 600.50,366.0 600.75,369.5 601.00,364.9 601.25,359.1 601.50,352.9 601.75,345.8 602.00,348.9 602.25,344.3 602.50,334.4 602.75,330.6 603.00,329.4 603.25,326.5 603.50,331.2 603.75,323.6 604.00,324.6 604.25,324.5 604.50,323.6 604.75,327.5 605.00,331.6 605.25,338.2 605.50,339.3 605.75,344.6 606.00,343.4 606.25,348.1 606.50,361.5 606.75,373.5 607.00,379.5 607.25,392.3 607.50,409.0 607.75,398.9 608.00,393.1 608.25,392.9 608.50,391.0 608.75,381.8 609.00,372.8 609.25,382.8 609.50,386.9 609.75,386.9 610.00,391.5 610.25,398.7 610.50,392.3 610.75,396.6 611.00,397.3 611.25,386.9 611.50,389.6 611.75,382.0 612.00,385.7 612.25,385.1 612.50,391.0 612.75,396.0 613.00,405.0 613.25,417.9 613.50,421.1 613.75,424.6 614.00,430.0 614.25,434.7 614.50,429.3 614.75,429.2 615.00,428.3 615.25,425.4 615.50,427.4 615.75,421.5 616.00,425.0" fill="none" stroke="#ED7D31" stroke-width="3.8" stroke-linejoin="round" stroke-linecap="round"/>
<polyline points="117.50,440.0 125.00,446.7 136.70,450.3 149.20,462.5 160.50,482.5 171.70,502.5 183.30,490.8 195.80,458.3 207.00,395.0 218.70,382.5 230.30,335.0 242.50,320.8 254.20,258.3 265.80,291.7 277.50,267.5 289.70,286.7 301.70,424.0 313.00,480.0 324.70,509.2 336.70,489.2 348.30,385.8 360.00,371.2 371.30,336.3 383.30,321.7 395.00,298.7 406.70,327.0 418.30,313.0 430.00,309.7 442.50,328.3 453.30,367.5 465.30,380.0 477.00,395.8 489.20,400.8 500.80,415.0 512.30,410.0 524.20,397.0 535.80,390.0 547.50,402.2 559.70,396.3 571.30,396.7 583.70,404.2 595.00,420.8 606.30,414.3 618.00,430.0 629.70,446.7 641.70,459.2 653.00,458.0 665.00,441.7 676.70,420.8 688.70,428.7 700.30,410.0 711.70,393.0 724.20,385.0 735.80,395.0 747.00,380.3 759.20,381.7 770.80,425.0 782.50,435.3 794.20,437.0 805.80,436.2 817.50,442.0 829.50,475.3 841.30,469.2 853.00,458.3 865.00,440.0 876.70,416.7 888.00,396.7 900.00,399.8 911.70,416.7 923.50,427.5 935.30,424.5 947.00,428.7 958.70,434.2 970.80,450.8" fill="none" stroke="#7F7F7F" stroke-width="3.1" stroke-linejoin="round" stroke-linecap="round"/>
<g class="ax" text-anchor="end">
<text transform="translate(104.8 244.0) scale(0.924 1)">5500</text>
<text transform="translate(104.8 275.2) scale(0.924 1)">5000</text>
<text transform="translate(104.8 306.4) scale(0.924 1)">4500</text>
<text transform="translate(104.8 337.6) scale(0.924 1)">4000</text>
<text transform="translate(104.8 368.8) scale(0.924 1)">3500</text>
<text transform="translate(104.8 400.0) scale(0.924 1)">3000</text>
<text transform="translate(104.8 431.2) scale(0.924 1)">2500</text>
<text transform="translate(104.8 462.4) scale(0.924 1)">2000</text>
<text transform="translate(104.8 493.6) scale(0.924 1)">1500</text>
<text transform="translate(104.8 524.8) scale(0.924 1)">1000</text>
<text transform="translate(104.8 556.0) scale(0.924 1)">500</text>
</g>
<g class="ax" text-anchor="start">
<text transform="translate(1002.0 272.2) scale(0.924 1)">14</text>
<text transform="translate(1002.0 328.9) scale(0.924 1)">12</text>
<text transform="translate(1002.0 385.6) scale(0.924 1)">10</text>
<text transform="translate(1002.0 442.3) scale(0.924 1)">8</text>
<text transform="translate(1002.0 499.0) scale(0.924 1)">6</text>
<text transform="translate(1002.0 555.7) scale(0.924 1)">4</text>
</g>
<g class="ax" text-anchor="end">
<text transform="translate(121.4 569.5) rotate(-45) scale(0.924 1)" letter-spacing="0.9">2/1/05</text>
<text transform="translate(168.4 569.5) rotate(-45) scale(0.924 1)" letter-spacing="0.9">2/1/06</text>
<text transform="translate(215.3 569.5) rotate(-45) scale(0.924 1)" letter-spacing="0.9">2/1/07</text>
<text transform="translate(262.3 569.5) rotate(-45) scale(0.924 1)" letter-spacing="0.9">2/1/08</text>
<text transform="translate(309.2 569.5) rotate(-45) scale(0.924 1)" letter-spacing="0.9">2/1/09</text>
<text transform="translate(356.2 569.5) rotate(-45) scale(0.924 1)" letter-spacing="0.9">2/1/10</text>
<text transform="translate(403.2 569.5) rotate(-45) scale(0.924 1)" letter-spacing="0.9">2/1/11</text>
<text transform="translate(450.1 569.5) rotate(-45) scale(0.924 1)" letter-spacing="0.9">2/1/12</text>
<text transform="translate(497.1 569.5) rotate(-45) scale(0.924 1)" letter-spacing="0.9">2/1/13</text>
<text transform="translate(544.0 569.5) rotate(-45) scale(0.924 1)" letter-spacing="0.9">2/1/14</text>
<text transform="translate(591.0 569.5) rotate(-45) scale(0.924 1)" letter-spacing="0.9">2/1/15</text>
<text transform="translate(638.0 569.5) rotate(-45) scale(0.924 1)" letter-spacing="0.9">2/1/16</text>
<text transform="translate(684.9 569.5) rotate(-45) scale(0.924 1)" letter-spacing="0.9">2/1/17</text>
<text transform="translate(731.9 569.5) rotate(-45) scale(0.924 1)" letter-spacing="0.9">2/1/18</text>
<text transform="translate(778.8 569.5) rotate(-45) scale(0.924 1)" letter-spacing="0.9">2/1/19</text>
<text transform="translate(825.8 569.5) rotate(-45) scale(0.924 1)" letter-spacing="0.9">2/1/20</text>
<text transform="translate(872.8 569.5) rotate(-45) scale(0.924 1)" letter-spacing="0.9">2/1/21</text>
<text transform="translate(919.7 569.5) rotate(-45) scale(0.924 1)" letter-spacing="0.9">2/1/22</text>
<text transform="translate(966.7 569.5) rotate(-45) scale(0.924 1)" letter-spacing="0.9">2/1/23</text>
</g>
<path d="M231.2 207.1H258.5" stroke="#ED7D31" stroke-width="3.0" stroke-linecap="round"/>
<path d="M496.2 207.1H523.3" stroke="#7F7F7F" stroke-width="3.0" stroke-linecap="round"/>
</svg>
<div class="leg" style="left:261px">红利指数收盘价(左轴)</div>
<div class="leg" style="left:526px">万得全A(除金融、石油石化)ROE(TTM)</div>
<div class="fedge"></div>
<div class="footer">
<div class="tile" style="left:1012px;top:0;width:23px;height:24px;background:linear-gradient(100deg,#f39a0c 0%,#f29208 45%,#ef8004 100%)"></div>
<div class="tile" style="left:1035px;top:0;width:22px;height:24px;background:linear-gradient(135deg,#eb6407,#e95c08)"></div>
<div class="tile" style="left:1057px;top:0;width:23px;height:24px;background:linear-gradient(100deg,#ee7c05 0%,#ea6208 55%,#e54c0e 100%)"></div>
<div class="tile" style="left:1012px;top:24px;width:23px;height:24px;background:linear-gradient(120deg,#ea6a08 0%,#e3560c 60%,#dd4a0e 100%)"></div>
<div class="tile" style="left:1035px;top:24px;width:22px;height:24px;background:linear-gradient(100deg,#f49c10 0%,#f0850a 50%,#ec7208 100%)"></div>
<div class="tile" style="left:1057px;top:24px;width:23px;height:24px;background:linear-gradient(135deg,#cf4a0e 0%,#cb380f 50%,#c81a10 100%)"></div>
</div>
<svg class="logo" width="1080" height="719" viewBox="0 0 1080 719" fill="#fff">
<ellipse cx="922.9" cy="687.2" rx="2.1" ry="4.8" transform="rotate(4 922.9 687.2)"/>
<path d="M925.2 698.9C922.6 691.6 929.6 685.7 937.7 687.2C939.8 695.2 932.8 701.2 925.2 698.9Z"/>
<ellipse cx="927.9" cy="703.8" rx="5.4" ry="3.5" transform="rotate(45 927.9 703.8)"/>
<ellipse cx="916.8" cy="705.7" rx="5.9" ry="4.0" transform="rotate(-45 916.8 705.7)"/>
<ellipse cx="916.7" cy="697.5" rx="4.0" ry="1.9" transform="rotate(-6 916.7 697.5)"/>
<ellipse cx="915.9" cy="690.5" rx="4.8" ry="2.5" transform="rotate(40 915.9 690.5)"/>
</svg>
<div class="lgt">天风证券</div>
<div class="lgs">TF SECURITIES</div>
<div class="src">数据来源：Wind，天风证券研究所</div>
<div class="pg">7</div>
</body>
</html>
